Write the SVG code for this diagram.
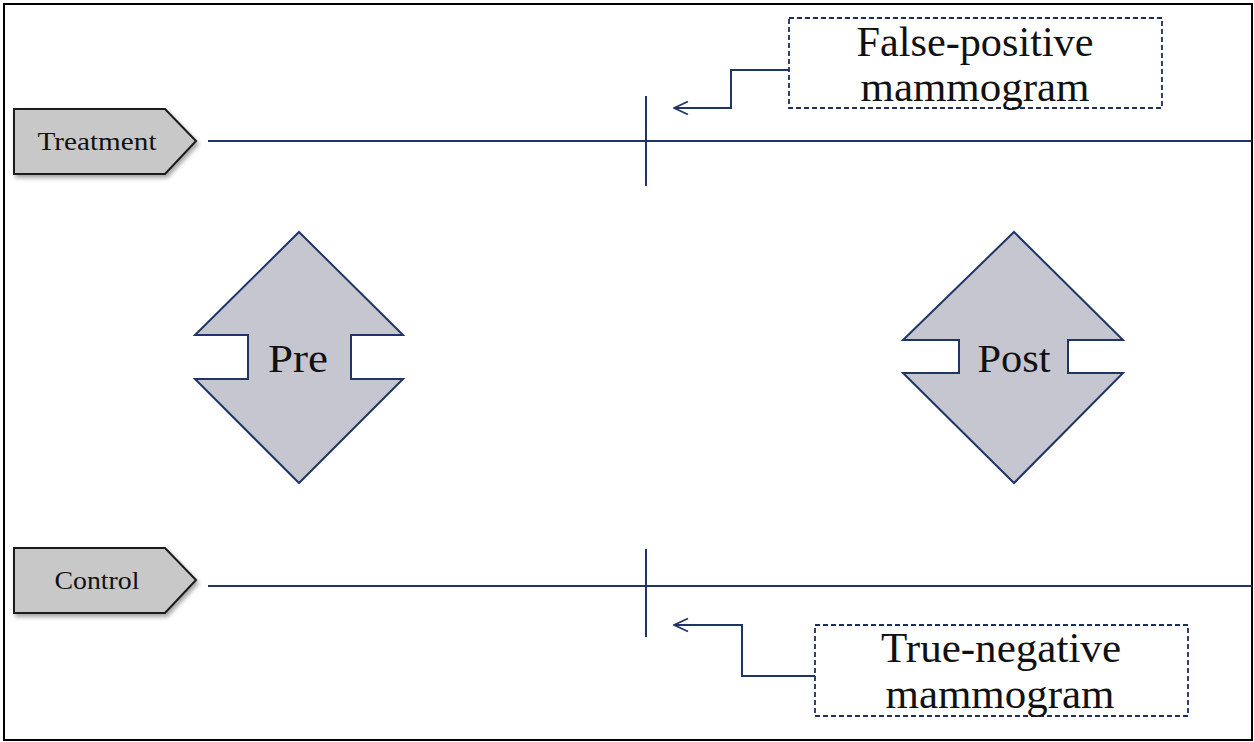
<svg xmlns="http://www.w3.org/2000/svg" width="1254" height="742" viewBox="0 0 1254 742">
<defs>
<style>
.lbl{fill:#c8c8c8;stroke:#1a1a1a;stroke-width:2}
.dbl{fill:#c5c6cf;stroke:#1f3566;stroke-width:2}
.ln{stroke:#1f3566;stroke-width:2;fill:none}
.call{fill:#fff;stroke:#1a2f5e;stroke-width:1.8;stroke-dasharray:5 3}
.t{font-family:"Liberation Serif","DejaVu Serif",serif;fill:#111;text-anchor:middle}
</style>
<marker id="open" viewBox="0 0 16 16" refX="15" refY="8" markerWidth="16" markerHeight="16" markerUnits="userSpaceOnUse" orient="auto">
<path d="M1,1.5 L15,8 L1,14.5" fill="none" stroke="#1f3566" stroke-width="1.8"/>
</marker>
<filter id="sh" x="-10%" y="-10%" width="130%" height="130%"><feDropShadow dx="2" dy="3" stdDeviation="2" flood-color="#000" flood-opacity="0.35"/></filter>
</defs>
<rect x="0" y="0" width="1254" height="742" fill="#fff"/>
<rect x="4" y="4" width="1248" height="736" fill="none" stroke="#000" stroke-width="2"/>
<g id="connectors">
<line class="ln" x1="208" y1="141" x2="1252" y2="141"/>
<line class="ln" x1="646" y1="96" x2="646" y2="186"/>
<line class="ln" x1="208" y1="586" x2="1252" y2="586"/>
<line class="ln" x1="646" y1="549" x2="646" y2="637"/>
<path class="ln" d="M789,70 H731 V108 H674" marker-end="url(#open)"/>
<path class="ln" d="M815,676 H742 V625 H674" marker-end="url(#open)"/>
</g>
<g id="treatment">
<polygon class="lbl" filter="url(#sh)" points="14,109 165,109 196,141 165,174 14,174"/>
<text class="t" x="97" y="150" font-size="25" textLength="119" lengthAdjust="spacingAndGlyphs">Treatment</text>
</g>
<g id="control">
<polygon class="lbl" filter="url(#sh)" points="14,548 165,548 196,580 165,613 14,613"/>
<text class="t" x="97" y="589" font-size="25" textLength="85" lengthAdjust="spacingAndGlyphs">Control</text>
</g>
<g id="pre">
<polygon class="dbl" points="299,232 403,335 351,335 351,379 403,379 299,483 195,379 248,379 248,335 195,335"/>
<text class="t" x="298" y="372" font-size="40" textLength="60" lengthAdjust="spacingAndGlyphs">Pre</text>
</g>
<g id="post">
<polygon class="dbl" points="1014,232 1123,340 1068,340 1068,373 1123,373 1014,483 903,373 959,373 959,340 903,340"/>
<text class="t" x="1014" y="372" font-size="40" textLength="73" lengthAdjust="spacingAndGlyphs">Post</text>
</g>
<g id="false-positive">
<rect class="call" x="789" y="18" width="373" height="90"/>
<text class="t" x="975" y="56" font-size="42" textLength="237" lengthAdjust="spacingAndGlyphs">False-positive</text>
<text class="t" x="975" y="101" font-size="42" textLength="229" lengthAdjust="spacingAndGlyphs">mammogram</text>
</g>
<g id="true-negative">
<rect class="call" x="815" y="625" width="373" height="91"/>
<text class="t" x="1001" y="662" font-size="42" textLength="240" lengthAdjust="spacingAndGlyphs">True-negative</text>
<text class="t" x="1000" y="708" font-size="42" textLength="229" lengthAdjust="spacingAndGlyphs">mammogram</text>
</g>
</svg>
